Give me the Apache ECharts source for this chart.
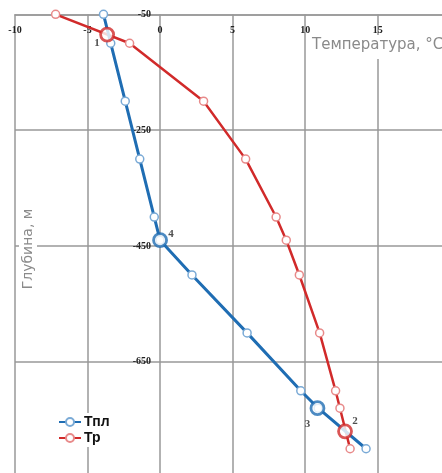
<!DOCTYPE html>
<html><head><meta charset="utf-8">
<script src="https://cdn.jsdelivr.net/npm/echarts@6/dist/echarts.min.js"></script>
<style>html,body{margin:0;padding:0;background:#fff}#c{width:442px;height:473px}</style>
</head><body><div id="c"></div>
<script>
// Data
const tplDepth = [-50, -100, -200, -300, -400, -440, -500, -600, -700, -730, -800];
const tplTemp  = [-3.9, -3.4, -2.4, -1.4, -0.4, 0.0, 2.2, 6.0, 9.7, 10.9, 14.2];
const trDepth  = [-50, -100, -200, -300, -400, -440, -500, -600, -700, -730, -800];
const trTemp   = [-7.2, -2.1, 3.0, 5.9, 8.0, 8.7, 9.6, 11.0, 12.1, 12.4, 13.1];
const markTemp  = [-3.65, 12.75, 10.85, 0.0];
const markDepth = [-85, -770, -730, -440];
const markLabel = ['1', '2', '3', '4'];
const markSer   = ['Тр', 'Тр', 'Тпл', 'Тпл'];
const xTicks = {min: -10, max: 20, step: 5};
const yTicks = {min: -850, max: -50, step: 200};

// Styles
const BLUE = '#1f6db3', BLUE_L = '#7aaad6', RED = '#d12a2a', RED_L = '#e88a8a';
const labelOffsets = [[-10, 9], [10, -10], [-10, 16], [11, -6]];
const tickFont = {fontFamily: 'Liberation Serif', fontWeight: 'bold', fontSize: 10, color: '#222'};

const chart = echarts.init(document.getElementById('c'), null, {renderer: 'canvas'});
const zip = (xs, ys) => xs.map((x, i) => [x, ys[i]]);
const GRID_L = 15, GRID_W = 442 - 15 + 8.2;
// y axis sits at temperature 0
const yAxisOffset = -GRID_W * (0 - xTicks.min) / (xTicks.max - xTicks.min);

chart.setOption({
  animation: false,
  grid: {left: GRID_L, top: 14.3, right: -8.2, bottom: -4.7, containLabel: false, outerBoundsMode: 'none'},
  xAxis: {
    type: 'value', position: 'top', min: xTicks.min, max: xTicks.max, interval: xTicks.step,
    axisLine: {show: true, onZero: false, lineStyle: {color: '#999', width: 1.5}},
    axisTick: {show: false},
    axisLabel: Object.assign({inside: true, margin: 11}, tickFont),
    splitLine: {show: true, lineStyle: {color: '#999', width: 1.5}}
  },
  yAxis: {
    type: 'value', position: 'left', offset: yAxisOffset, min: yTicks.min, max: yTicks.max, interval: yTicks.step,
    axisLine: {show: false, onZero: false},
    axisTick: {show: false},
    axisLabel: Object.assign({margin: 9}, tickFont),
    splitLine: {show: true, lineStyle: {color: '#999', width: 1.5}}
  },
  legend: {
    orient: 'vertical', left: 55, top: 413, itemWidth: 22, itemHeight: 10, itemGap: 2,
    padding: [2, 3], backgroundColor: '#fff',
    textStyle: {fontFamily: 'Liberation Sans', fontWeight: 'bold', fontSize: 14, color: '#111', lineHeight: 14, padding: [0, 0, 0, -2]},
    data: ['Тпл', 'Тр']
  },
  graphic: [
    {type: 'text', left: 310, top: 35, z: 50,
     style: {text: 'Температура, °C', fontFamily: 'DejaVu Sans', fontSize: 15, fill: '#8a8a8a',
             backgroundColor: '#fff', padding: [3, 2, 6, 2]}},
    {type: 'text', x: 28, y: 249, rotation: Math.PI / 2, z: 50,
     style: {text: 'Глубина, м', fontFamily: 'DejaVu Sans', fontSize: 14, fill: '#8a8a8a',
             align: 'center', verticalAlign: 'middle', backgroundColor: '#fff', padding: [2, 4]}}
  ],
  series: [
    {name: 'Тр', type: 'line', data: zip(trTemp, trDepth), symbol: 'circle', symbolSize: 8,
     lineStyle: {color: RED, width: 2.5}, itemStyle: {color: '#fff', borderColor: RED_L, borderWidth: 1.5}, z: 3},
    {name: 'Тпл', type: 'line', data: zip(tplTemp, tplDepth), symbol: 'circle', symbolSize: 8,
     lineStyle: {color: BLUE, width: 3}, itemStyle: {color: '#fff', borderColor: BLUE_L, borderWidth: 1.5}, z: 4},
    {type: 'scatter', z: 6, symbolSize: 13,
     data: markTemp.map((t, i) => ({
       value: [t, markDepth[i]],
       itemStyle: {color: '#fff', borderColor: markSer[i] === 'Тр' ? RED : BLUE, borderWidth: 2.8},
       label: {show: true, formatter: markLabel[i], position: 'inside', offset: labelOffsets[i],
               fontFamily: 'Liberation Serif', fontWeight: 'bold', fontSize: 11, color: '#222'}
     }))}
  ]
});
</script></body></html>
